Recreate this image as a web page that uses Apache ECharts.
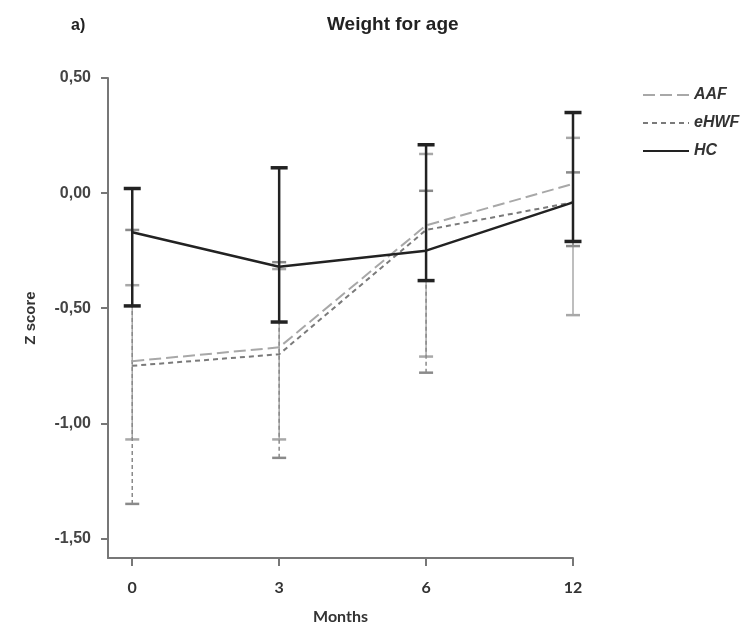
<!DOCTYPE html>
<html>
<head>
<meta charset="utf-8">
<script src="https://cdn.jsdelivr.net/npm/echarts@6/dist/echarts.min.js"></script>
<style>html,body{margin:0;padding:0;background:#fff}#c{width:744px;height:630px}</style>
</head>
<body>
<div id="c"></div>
<script>
const months = ['0', '3', '6', '12'];
const yTicks = [0.5, 0, -0.5, -1, -1.5];

const hcMean = [-0.17, -0.32, -0.25, -0.04];
const hcLow = [-0.49, -0.56, -0.38, -0.21];
const hcHigh = [0.02, 0.11, 0.21, 0.35];

const aafMean = [-0.73, -0.67, -0.14, 0.04];
const aafLow = [-1.07, -1.07, -0.71, -0.53];
const aafHigh = [-0.40, -0.33, 0.17, 0.24];

const ehwfMean = [-0.75, -0.70, -0.16, -0.04];
const ehwfLow = [-1.35, -1.15, -0.78, -0.23];
const ehwfHigh = [-0.16, -0.30, 0.01, 0.09];

const FONT = '"Liberation Sans", Arial, sans-serif';

function pts(arr) { return arr.map((v, i) => [i, v]); }
function errs(lo, hi) { return lo.map((v, i) => [i, v, hi[i]]); }

function errSeries(name, lo, hi, color, width, dash, capW, z) {
  return {
    type: 'custom', name: name, z: z,
    data: errs(lo, hi),
    encode: { x: 0, y: [1, 2] },
    silent: true,
    renderItem: function (params, api) {
      const x = api.value(0);
      const a = api.coord([x, api.value(1)]);
      const b = api.coord([x, api.value(2)]);
      const st = { stroke: color, lineWidth: width, lineDash: dash, fill: null };
      const cs = { stroke: color, lineWidth: width + 1, fill: null };
      const h = capW / 2;
      return {
        type: 'group',
        children: [
          { type: 'line', shape: { x1: a[0], y1: a[1], x2: b[0], y2: b[1] }, style: st },
          { type: 'line', shape: { x1: a[0] - h, y1: a[1], x2: a[0] + h, y2: a[1] }, style: cs },
          { type: 'line', shape: { x1: b[0] - h, y1: b[1], x2: b[0] + h, y2: b[1] }, style: cs }
        ]
      };
    }
  };
}

const chart = echarts.init(document.getElementById('c'), null, { renderer: 'canvas' });
chart.setOption({
  animation: false,
  backgroundColor: '#fff',
  title: [
    { text: 'Weight for age', left: 322, top: 10,
      textStyle: { fontFamily: FONT, fontSize: 19, fontWeight: 'bold', color: '#222' } },
    { text: 'a)', left: 66, top: 13,
      textStyle: { fontFamily: FONT, fontSize: 16, fontWeight: 'bold', color: '#222' } }
  ],
  legend: {
    data: ['AAF', 'eHWF', 'HC'],
    orient: 'vertical', left: 637, top: 82,
    itemWidth: 46, itemHeight: 14, itemGap: 12,
    itemStyle: { opacity: 0 },
    textStyle: { fontFamily: FONT, fontSize: 16, fontStyle: 'italic', fontWeight: 'bold', color: '#333' }
  },
  grid: { left: 108, right: 171, top: 78, bottom: 65, containLabel: false },
  xAxis: {
    type: 'value', min: -0.165, max: 3,
    name: 'Months', nameLocation: 'middle', nameGap: 51,
    nameTextStyle: { fontFamily: 'Lato, "Open Sans", sans-serif', fontSize: 16, fontWeight: 'bold', color: '#333' },
    axisLine: { onZero: false, lineStyle: { color: '#777', width: 2 } },
    axisTick: { show: true, length: 8, customValues: [0, 1, 2, 3], lineStyle: { color: '#777', width: 2 } },
    axisLabel: { customValues: [0, 1, 2, 3], margin: 22, fontFamily: 'Lato, sans-serif', fontSize: 16, fontWeight: 'bold', color: '#333',
      formatter: v => months[Math.round(v)] },
    splitLine: { show: false }
  },
  yAxis: {
    type: 'value', min: -1.585, max: 0.5,
    name: 'Z score', nameLocation: 'middle', nameGap: 70, nameRotate: 90,
    nameTextStyle: { fontFamily: FONT, fontSize: 15, fontWeight: 'bold', color: '#333' },
    axisLine: { show: true, onZero: false, lineStyle: { color: '#777', width: 2 } },
    axisTick: { show: true, length: 7, customValues: yTicks, lineStyle: { color: '#777', width: 2 } },
    axisLabel: { customValues: yTicks, margin: 17, fontFamily: FONT, fontSize: 16, fontWeight: 'bold', color: '#444',
      formatter: v => (Math.abs(v) < 1e-9 ? '0.00' : v.toFixed(2)).replace('.', ',') },
    splitLine: { show: false }
  },
  series: [
    errSeries('AAF err', aafLow, aafHigh, '#a8a8a8', 1.5, null, 14, 2),
    errSeries('eHWF err', ehwfLow, ehwfHigh, '#8a8a8a', 1.5, [4, 3], 14, 2),
    {
      name: 'AAF', type: 'line', data: pts(aafMean), symbol: 'none', z: 3,
      lineStyle: { color: '#a8a8a8', width: 2, type: [12, 5] }, itemStyle: { color: '#a8a8a8' }
    },
    {
      name: 'eHWF', type: 'line', data: pts(ehwfMean), symbol: 'none', z: 3,
      lineStyle: { color: '#7a7a7a', width: 2, type: [5, 4] }, itemStyle: { color: '#7a7a7a' }
    },
    errSeries('HC err', hcLow, hcHigh, '#222', 2.5, null, 17, 4),
    {
      name: 'HC', type: 'line', data: pts(hcMean), symbol: 'none', z: 5,
      lineStyle: { color: '#222', width: 2.5 }, itemStyle: { color: '#222' }
    }
  ]
});
</script>
</body>
</html>
